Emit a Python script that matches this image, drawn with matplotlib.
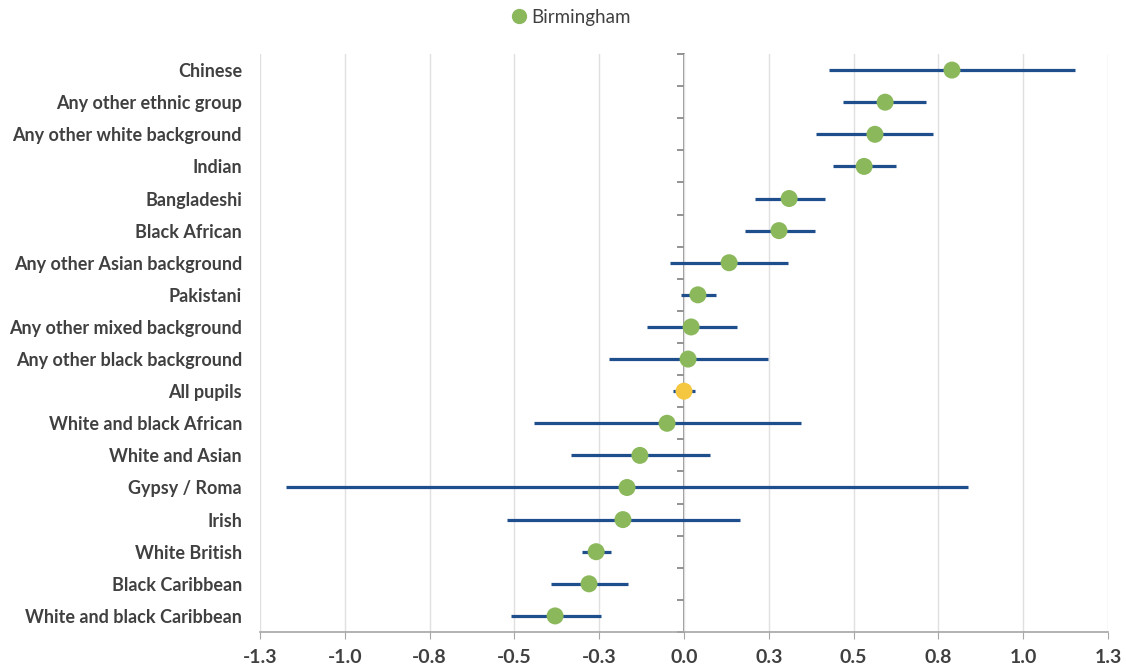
import numpy as np
import matplotlib.pyplot as plt
from matplotlib.lines import Line2D

groups = ["Chinese", "Any other ethnic group", "Any other white background", "Indian",
          "Bangladeshi", "Black African", "Any other Asian background", "Pakistani",
          "Any other mixed background", "Any other black background", "All pupils",
          "White and black African", "White and Asian", "Gypsy / Roma", "Irish",
          "White British", "Black Caribbean", "White and black Caribbean"]
values = [0.79, 0.593, 0.563, 0.531, 0.310, 0.280, 0.133, 0.041, 0.021, 0.012, 0.0,
          -0.050, -0.130, -0.168, -0.180, -0.259, -0.280, -0.380]
lower = [0.427, 0.469, 0.389, 0.439, 0.209, 0.180, -0.041, -0.009, -0.109, -0.221, -0.032,
         -0.442, -0.333, -1.173, -0.522, -0.301, -0.392, -0.510]
upper = [1.153, 0.713, 0.734, 0.625, 0.416, 0.386, 0.307, 0.094, 0.156, 0.248, 0.032,
         0.345, 0.077, 0.837, 0.165, -0.215, -0.165, -0.245]
xticks = [-1.25, -1.0, -0.75, -0.5, -0.25, 0.0, 0.25, 0.5, 0.75, 1.0, 1.25]
xtick_labels = ["-1.3", "-1.0", "-0.8", "-0.5", "-0.3", "0.0", "0.3", "0.5", "0.8", "1.0", "1.3"]

green = "#8cb85c"
yellow = "#f5c63f"
blue = "#1f4e8c"
txt = "#404040"

plt.rcParams['font.family'] = ['Lato', 'DejaVu Sans']

fig = plt.figure(figsize=(11.26, 6.67), dpi=100)
ax = fig.add_axes([0.2309, 0.0525, 0.7531, 0.8665])

y = np.arange(len(groups))
vals = np.array(values)
lo = np.array(lower)
hi = np.array(upper)

ax.hlines(y, lo, hi, color=blue, lw=2.3, zorder=3)
colors = [yellow if g == "All pupils" else green for g in groups]
ax.scatter(vals, y, s=150, c=colors, zorder=4, linewidths=0)

ax.set_xlim(-1.25, 1.25)
ax.set_ylim(len(groups) - 0.5, -0.5)
ax.set_xticks(xticks)
ax.set_xticklabels(xtick_labels, fontsize=14, fontweight='bold', color=txt)
ax.set_yticks(y)
ax.set_yticklabels(groups, fontsize=13, fontweight='bold', color=txt)
ax.tick_params(axis='y', length=0, pad=13)
ax.tick_params(axis='x', length=5, color='#a6a6a6', pad=7)
ax.grid(axis='x', color='#e0e0e0', lw=1)
ax.set_axisbelow(True)
for s in ['left', 'right', 'top']:
    ax.spines[s].set_visible(False)
ax.spines['bottom'].set_color('#a6a6a6')
ax.spines['bottom'].set_linewidth(1.2)

# vertical category axis drawn at x = 0
ax2 = ax.twinx()
ax2.set_ylim(ax.get_ylim())
for s in ['right', 'top', 'bottom']:
    ax2.spines[s].set_visible(False)
ax2.spines['left'].set_position(('data', 0))
ax2.spines['left'].set_color('#808080')
ax2.spines['left'].set_linewidth(1.2)
ax2.yaxis.set_ticks_position('left')
ax2.set_yticks(np.arange(len(groups) + 1) - 0.5)
ax2.set_yticklabels([])
ax2.tick_params(axis='y', length=5, color='#808080', width=1.2, direction='out')
ax2.set_zorder(ax.get_zorder() - 1)
ax.patch.set_visible(False)

handle = Line2D([], [], ls='none', marker='o', ms=10, mfc=green, mec=green)
fig.legend([handle], ["Birmingham"], loc='center', bbox_to_anchor=(0.507, 0.974),
           frameon=False, fontsize=13.5, handlelength=0.8, handletextpad=0.25,
           labelcolor=txt)

fig.savefig("out.png", dpi=100)
